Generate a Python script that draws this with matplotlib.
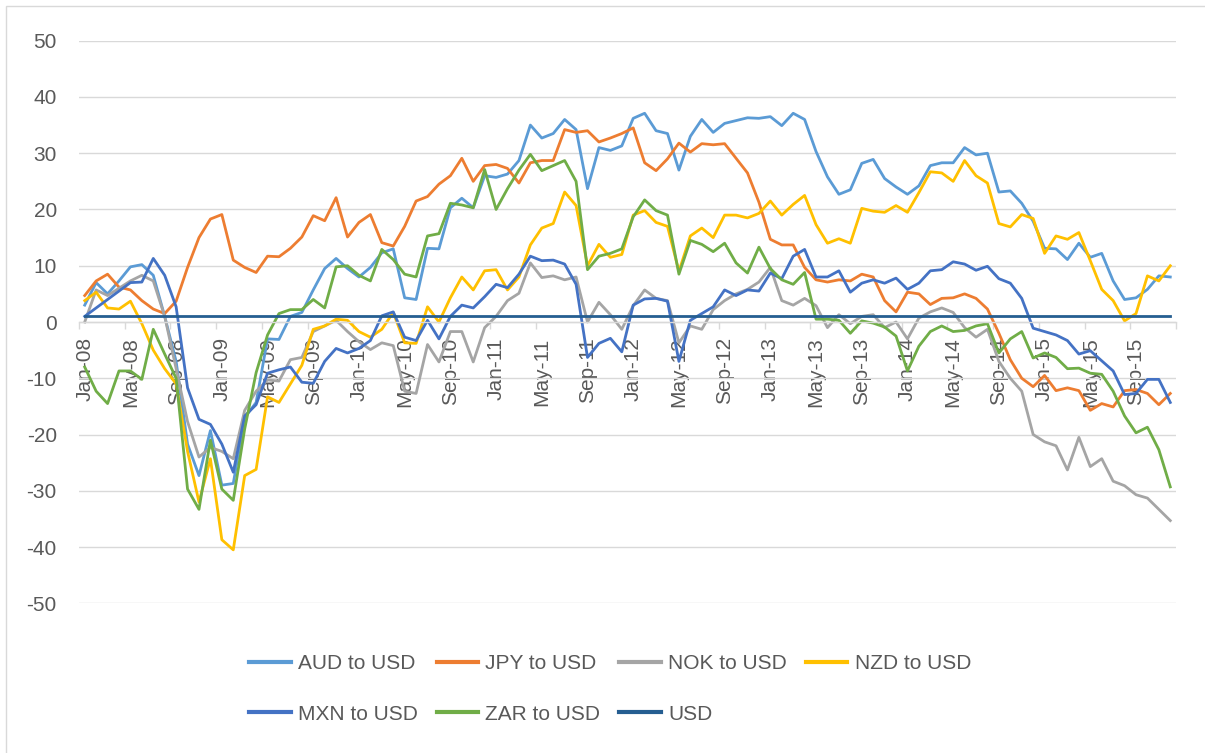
import numpy as np
import pandas as pd
import matplotlib
matplotlib.use("Agg")
import matplotlib.pyplot as plt
from matplotlib.patches import Rectangle

plt.rcParams['font.family'] = ['Liberation Sans', 'DejaVu Sans']
plt.rcParams['axes.unicode_minus'] = False

months = pd.date_range('2008-01-01', periods=96, freq='MS').strftime('%b-%y').tolist()

aud = [3, 7, 5, 7.3, 9.8, 10.2, 8.3, 1, -7, -21.7, -27.3, -19.3,
       -29, -28.7, -17, -14.3, -3, -3.1, 1, 1.7, 5.7, 9.5, 11.3, 9.5,
       8, 9.7, 12.3, 13, 4.3, 4, 13.1, 13, 20.3, 22, 20.3, 26,
       25.7, 26.3, 28.7, 35, 32.7, 33.5, 36, 34.2, 23.7, 31, 30.5, 31.3,
       36.2, 37.1, 34, 33.5, 27, 33, 36, 33.7, 35.3, 35.8, 36.3, 36.2,
       36.5, 34.9, 37.1, 36, 30.3, 25.8, 22.7, 23.5, 28.2, 28.9, 25.5, 24,
       22.7, 24.2, 27.8, 28.3, 28.3, 31, 29.7, 30, 23.1, 23.3, 21.1, 17.9,
       13.1, 13, 11.1, 14, 11.5, 12.2, 7.3, 4, 4.3, 5.8, 8.2, 8]
jpy = [4.7, 7.3, 8.5, 6.2, 5.7, 3.8, 2.3, 1.5, 3.7, 9.7, 15, 18.3,
       19.1, 11, 9.7, 8.8, 11.7, 11.6, 13.1, 15.1, 18.9, 18, 22.1, 15.1,
       17.7, 19.1, 14.1, 13.5, 17, 21.5, 22.3, 24.5, 26, 29.1, 25, 27.8,
       28, 27.3, 24.7, 28.3, 28.7, 28.7, 34.2, 33.7, 34, 32, 32.7, 33.5,
       34.5, 28.3, 26.9, 29, 31.8, 30.2, 31.7, 31.5, 31.7, 29.1, 26.5, 21.3,
       14.7, 13.7, 13.7, 9.7, 7.5, 7.1, 7.5, 7.3, 8.5, 8, 3.8, 1.8,
       5.3, 5, 3.1, 4.2, 4.3, 5, 4.2, 2.3, -2, -6.7, -10, -11.5,
       -9.5, -12.2, -11.7, -12.2, -15.7, -14.5, -15.1, -12.2, -12, -12.7, -14.7, -12.7]
nok = [0, 5.7, 4.7, 6, 7.3, 8.3, 7.3, 1, -8.3, -17.7, -24, -22.3,
       -23, -24.3, -15.7, -12.3, -10.3, -10.5, -6.7, -6.3, -1.7, -0.7, 0.3, -1.7,
       -3.5, -4.9, -3.7, -4.2, -12.3, -12.7, -4, -7.1, -1.7, -1.7, -7.1, -1,
       1, 3.8, 5.1, 10.5, 7.9, 8.2, 7.5, 8, 0, 3.5, 1.3, -1.3,
       2.9, 5.7, 4.2, 3.8, -3.7, -0.7, -1.3, 2.2, 3.8, 5, 5.8, 7.1,
       9.7, 3.8, 3, 4.2, 2.9, -1, 1.3, -0.3, 1, 1.3, -1, 0,
       -3, 0.7, 1.8, 2.5, 1.7, -1, -2.7, -1.3, -7, -10, -12.3, -20,
       -21.3, -22, -26.3, -20.5, -25.7, -24.3, -28.3, -29.1, -30.7, -31.3, -33.3, -35.3]
nzd = [3.8, 5.3, 2.5, 2.3, 3.7, -0.3, -5, -8.3, -11, -23, -32, -24.3,
       -38.7, -40.5, -27.3, -26.2, -13.3, -14.3, -11, -7.7, -1.3, -0.7, 0.5, 0.3,
       -1.7, -2.7, -1.3, 1.7, -3.7, -3.8, 2.7, 0, 4.3, 8, 5.7, 9.1,
       9.3, 5.7, 8, 13.7, 16.7, 17.5, 23.1, 20.7, 10, 13.8, 11.5, 12,
       19, 19.8, 17.7, 17, 9, 15.3, 16.7, 15, 19, 19, 18.5, 19.3,
       21.5, 19, 20.9, 22.5, 17.3, 14, 14.8, 14, 20.2, 19.7, 19.5, 20.7,
       19.5, 23, 26.7, 26.5, 25, 28.7, 26, 24.7, 17.5, 16.9, 19.1, 18.4,
       12.2, 15.3, 14.7, 15.9, 10.9, 5.8, 3.8, 0.2, 1.5, 8.2, 7.3, 10]
mxn = [1, 2.5, 4, 5.5, 7, 7.1, 11.3, 8.3, 2.7, -11.7, -17.3, -18.2,
       -21.7, -26.7, -16.7, -14.7, -9.1, -8.5, -8, -10.7, -10.9, -7, -4.7, -5.5,
       -4.7, -3.3, 1.1, 1.8, -2.7, -3.3, 0.3, -3, 1, 3, 2.5, 4.5,
       6.7, 6.1, 8.5, 11.7, 10.9, 11, 10.3, 6.7, -6.3, -3.8, -2.9, -5.3,
       3, 4.1, 4.2, 3.7, -7, 0.3, 1.5, 2.7, 5.7, 4.7, 5.7, 5.5,
       8.7, 7.7, 11.7, 12.9, 8, 8, 9.1, 5.3, 6.9, 7.5, 6.9, 7.8,
       5.8, 6.9, 9.1, 9.3, 10.7, 10.3, 9.2, 9.9, 7.7, 6.9, 4.2, -1.1,
       -1.7, -2.3, -3.3, -5.7, -5.1, -6.9, -8.7, -12.9, -12.7, -10.2, -10.2, -14.3]
zar = [-8, -12.3, -14.5, -8.7, -8.7, -10.2, -1.3, -5.7, -10, -29.7, -33.3, -21,
       -29.7, -31.7, -19, -9, -2.3, 1.5, 2.2, 2.2, 4, 2.5, 9.8, 10,
       8.3, 7.3, 12.9, 11.1, 8.5, 8, 15.3, 15.7, 21.1, 20.8, 20.3, 27.1,
       20, 23.7, 27, 29.8, 26.9, 27.8, 28.7, 25, 9.3, 11.7, 12.2, 13,
       18.7, 21.7, 19.8, 19, 8.5, 14.5, 13.8, 12.5, 14, 10.5, 8.7, 13.3,
       9.5, 7.5, 6.7, 8.8, 0.5, 0.5, 0.3, -2, 0.2, -0.2, -0.9, -2.5,
       -8.7, -4.3, -1.7, -0.7, -1.7, -1.5, -0.7, -0.3, -5.5, -3, -1.7, -6.4,
       -5.5, -6.3, -8.3, -8.2, -9.1, -9.3, -12.3, -16.7, -19.7, -18.7, -22.7, -29.3]
usd = [1.0] * len(months)

series = [("AUD to USD", aud, "#5B9BD5"),
          ("JPY to USD", jpy, "#ED7D31"),
          ("NOK to USD", nok, "#A5A5A5"),
          ("NZD to USD", nzd, "#FFC000"),
          ("MXN to USD", mxn, "#4472C4"),
          ("ZAR to USD", zar, "#70AD47"),
          ("USD", usd, "#255E91")]

fig = plt.figure(figsize=(12.05, 7.53), dpi=100)
ax = fig.add_axes([79 / 1205, 1 - 603.3 / 753, (1176 - 79) / 1205, (603.3 - 40.7) / 753])

x = np.arange(len(months))
lines = {}
for name, vals, col in series:
    lines[name], = ax.plot(x, vals, color=col, lw=2.0, label=name, solid_joinstyle='round')

ax.set_xlim(-0.5, 95.5)
ax.set_ylim(-50, 50)
ax.set_yticks(range(-50, 51, 10))
ax.yaxis.grid(True, color='#D9D9D9', lw=1)
ax.set_axisbelow(True)
for s in ['left', 'right', 'top']:
    ax.spines[s].set_visible(False)
ax.spines['bottom'].set_position(('data', 0))
ax.spines['bottom'].set_color('#D9D9D9')
ax.spines['bottom'].set_linewidth(1)

ax.set_xticks(x[::4])
ax.set_xticklabels(months[::4], rotation=90)
ax.set_xticks(np.arange(-0.5, 96, 4), minor=True)
ax.tick_params(axis='x', which='major', length=0, pad=11, labelsize=15, labelcolor='#595959')
ax.tick_params(axis='x', which='minor', length=5, color='#D9D9D9', width=1)
ax.tick_params(axis='y', length=0, pad=16, labelsize=15, labelcolor='#595959')

order = ["AUD to USD", "MXN to USD", "JPY to USD", "ZAR to USD", "NOK to USD", "USD", "NZD to USD"]
leg = fig.legend([lines[n] for n in order], order, ncol=4, loc='center',
                 bbox_to_anchor=(610 / 1205, 1 - 689 / 753), frameon=False, fontsize=15,
                 handlelength=2.0, handletextpad=0.35, columnspacing=0.9, labelspacing=1.5)
for t in leg.get_texts():
    t.set_color('#595959')
for h in leg.get_lines():
    h.set_linewidth(3)

fig.patches.append(Rectangle((6 / 1205, -0.1), 1.1, 1.1 - 6 / 753, transform=fig.transFigure,
                             fill=False, ec='#D9D9D9', lw=1))

fig.savefig('out.png', dpi=100, facecolor='white')
